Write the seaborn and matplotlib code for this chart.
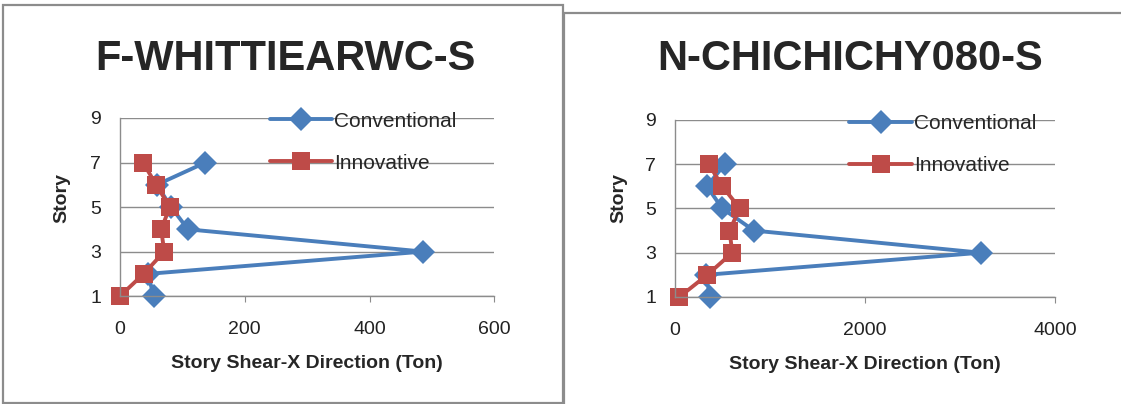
import pandas as pd
import seaborn as sns
import matplotlib.pyplot as plt
from matplotlib.patches import Rectangle

stories = [1, 2, 3, 4, 5, 6, 7]

# F-WHITTIEARWC-S
whittier_conv = [54, 45, 486, 109, 82, 59, 137]
whittier_innov = [0, 38, 71, 66, 80, 58, 37]

# N-CHICHICHY080-S
chichi_conv = [368, 330, 3221, 832, 500, 337, 526]
chichi_innov = [48, 342, 605, 575, 684, 500, 358]

titles = ['F-WHITTIEARWC-S', 'N-CHICHICHY080-S']
x_ticks = [[0, 200, 400, 600], [0, 2000, 4000]]
y_ticks = [1, 3, 5, 7, 9]

sns.set_style('white')
plt.rcParams['font.family'] = ['Liberation Sans Narrow', 'Liberation Sans', 'DejaVu Sans']

blue = '#4A7EBB'
red = '#BE4B48'
grey = '#8C8C8C'


def make_df(conv, innov):
    a = pd.DataFrame({'story': stories, 'shear': conv, 'type': 'Conventional'})
    b = pd.DataFrame({'story': stories, 'shear': innov, 'type': 'Innovative'})
    return pd.concat([a, b], ignore_index=True)


fig = plt.figure(figsize=(11.21, 4.04), dpi=100)

# panel frames
fig.patches.append(Rectangle((3 / 1121, 1 / 404), 560 / 1121, 398 / 404, transform=fig.transFigure,
                             fill=False, edgecolor=grey, linewidth=1.6))
fig.patches.append(Rectangle((564 / 1121, -0.02), 600 / 1121, (391 / 404) + 0.02, transform=fig.transFigure,
                             fill=False, edgecolor=grey, linewidth=1.6))

axes_pos = [[0.107, 0.267, 0.334, 0.441], [0.602, 0.265, 0.339, 0.438]]
xlims = [(0, 600), (0, 4000)]
leg_x = [0.35, 0.41]
title_x = [285 / 1121, 850 / 1121]
ylabel_x = [62 / 1121, 619 / 1121]
data = [make_df(whittier_conv, whittier_innov), make_df(chichi_conv, chichi_innov)]

for i in range(2):
    ax = fig.add_axes(axes_pos[i])
    sns.lineplot(data=data[i], x='shear', y='story', hue='type', style='type',
                 markers={'Conventional': 'D', 'Innovative': 's'}, dashes=False,
                 palette={'Conventional': blue, 'Innovative': red},
                 sort=False, estimator=None, linewidth=2.8, markersize=12.5,
                 markeredgewidth=0, ax=ax)
    for ln in ax.lines:
        ln.set_clip_on(False)
    ax.set_xlim(xlims[i])
    ax.set_ylim(1, 9)
    ax.set_xticks(x_ticks[i])
    ax.set_yticks(y_ticks)
    ax.tick_params(axis='both', labelsize=14, colors='#222222')
    ax.tick_params(axis='x', bottom=True, length=4, color=grey, pad=14)
    ax.tick_params(axis='y', left=False, pad=10)
    ax.grid(axis='y', color=grey, linewidth=1)
    ax.set_axisbelow(True)
    for s in ['top', 'right']:
        ax.spines[s].set_visible(False)
    for s in ['left', 'bottom']:
        ax.spines[s].set_color(grey)
        ax.spines[s].set_linewidth(1)
    ax.set_xlabel('Story Shear-X Direction (Ton)', fontsize=14, fontweight='bold', labelpad=12)
    ax.set_ylabel('')
    fig.text(ylabel_x[i], 0.51, 'Story', rotation=90, fontsize=14, fontweight='bold',
             ha='center', va='center')
    fig.text(title_x[i], 0.855, titles[i], fontsize=30, fontweight='bold', ha='center', va='center')
    handles, labels = ax.get_legend_handles_labels()
    ax.legend(handles, labels, loc='upper left', bbox_to_anchor=(leg_x[i], 1.14), frameon=False,
              fontsize=15, handlelength=3, handletextpad=0.1, labelspacing=1.1)

plt.savefig('out.png', dpi=100)
